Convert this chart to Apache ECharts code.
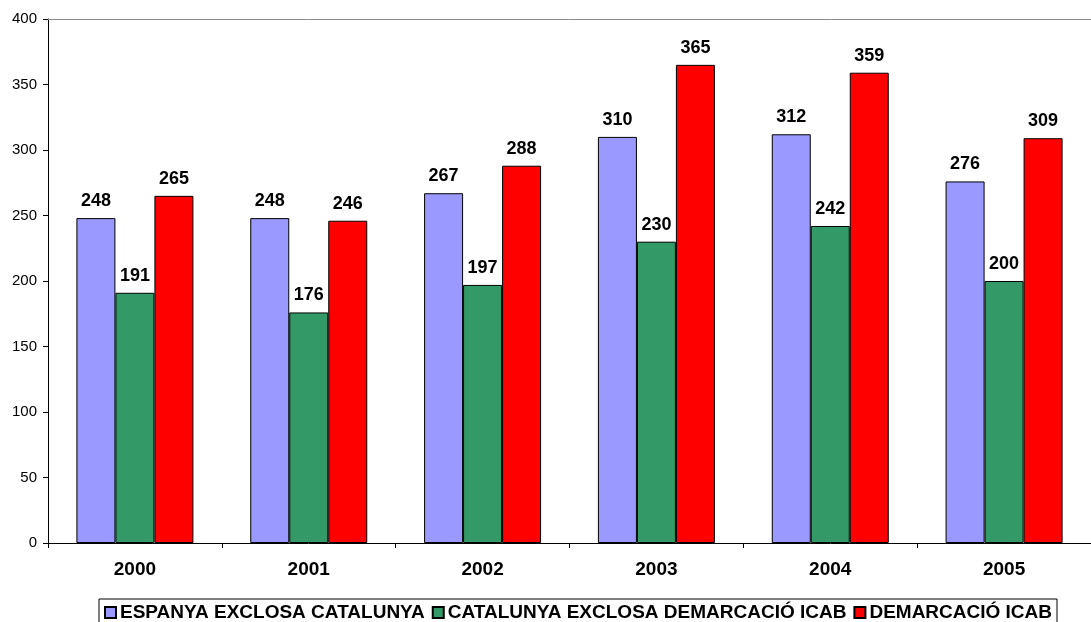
<!DOCTYPE html>
<html>
<head>
<meta charset="utf-8">
<script src="https://cdn.jsdelivr.net/npm/echarts@6/dist/echarts.min.js"></script>
<style>
html,body{margin:0;padding:0;background:#fff;}
#chart{width:1091px;height:622px;}
</style>
</head>
<body>
<div id="chart"></div>
<script>
const categories = ['2000', '2001', '2002', '2003', '2004', '2005'];
const seriesNames = ['ESPANYA EXCLOSA CATALUNYA', 'CATALUNYA EXCLOSA DEMARCACIÓ ICAB', 'DEMARCACIÓ ICAB'];
const espanya = [248, 248, 267, 310, 312, 276];
const catalunya = [191, 176, 197, 230, 242, 200];
const icab = [265, 246, 288, 365, 359, 309];
const colors = ['#9999FF', '#339966', '#FF0000'];

const chart = echarts.init(document.getElementById('chart'));
const font = 'Arial, "Liberation Sans", sans-serif';
function mk(name, data, color) {
  return {
    name: name, type: 'bar', data: data, barWidth: 39, barGap: '0%',
    itemStyle: { color: color, borderColor: '#000', borderWidth: 1 },
    label: { show: true, position: 'top', distance: 8, color: '#000', fontFamily: font, fontWeight: 'bold', fontSize: 18 }
  };
}
chart.setOption({
  animation: false,
  grid: { left: 48, right: -12, top: 19, bottom: 79 },
  xAxis: [{
    type: 'category', data: categories,
    axisLine: { lineStyle: { color: '#000', width: 1 } },
    axisTick: { show: true, length: 5, lineStyle: { color: '#000' } },
    axisLabel: { color: '#000', fontFamily: font, fontWeight: 'bold', fontSize: 19, margin: 17 },
    splitLine: { show: false }
  }, {
    type: 'category', data: categories, position: 'top',
    axisLine: { show: true, lineStyle: { color: '#8c8c8c', width: 1 } },
    axisTick: { show: false }, axisLabel: { show: false }, splitLine: { show: false }
  }],
  yAxis: {
    type: 'value', min: 0, max: 400, interval: 50,
    axisLine: { show: true, lineStyle: { color: '#000', width: 1 } },
    axisTick: { show: true, length: 5, lineStyle: { color: '#000' } },
    axisLabel: { color: '#000', fontFamily: font, fontSize: 15, margin: 11 },
    splitLine: { show: false }
  },
  legend: {
    left: 99, top: 599,
    data: seriesNames,
    itemWidth: 11, itemHeight: 11, itemGap: 7,
    padding: [4, 5, 8, 5],
    borderColor: '#000', borderWidth: 1,
    icon: 'rect',
    textStyle: { color: '#000', fontFamily: font, fontWeight: 'bold', fontSize: 19, padding: [0, 0, 0, -1] }
  },
  series: [mk(seriesNames[0], espanya, colors[0]), mk(seriesNames[1], catalunya, colors[1]), mk(seriesNames[2], icab, colors[2])]
});
</script>
</body>
</html>
